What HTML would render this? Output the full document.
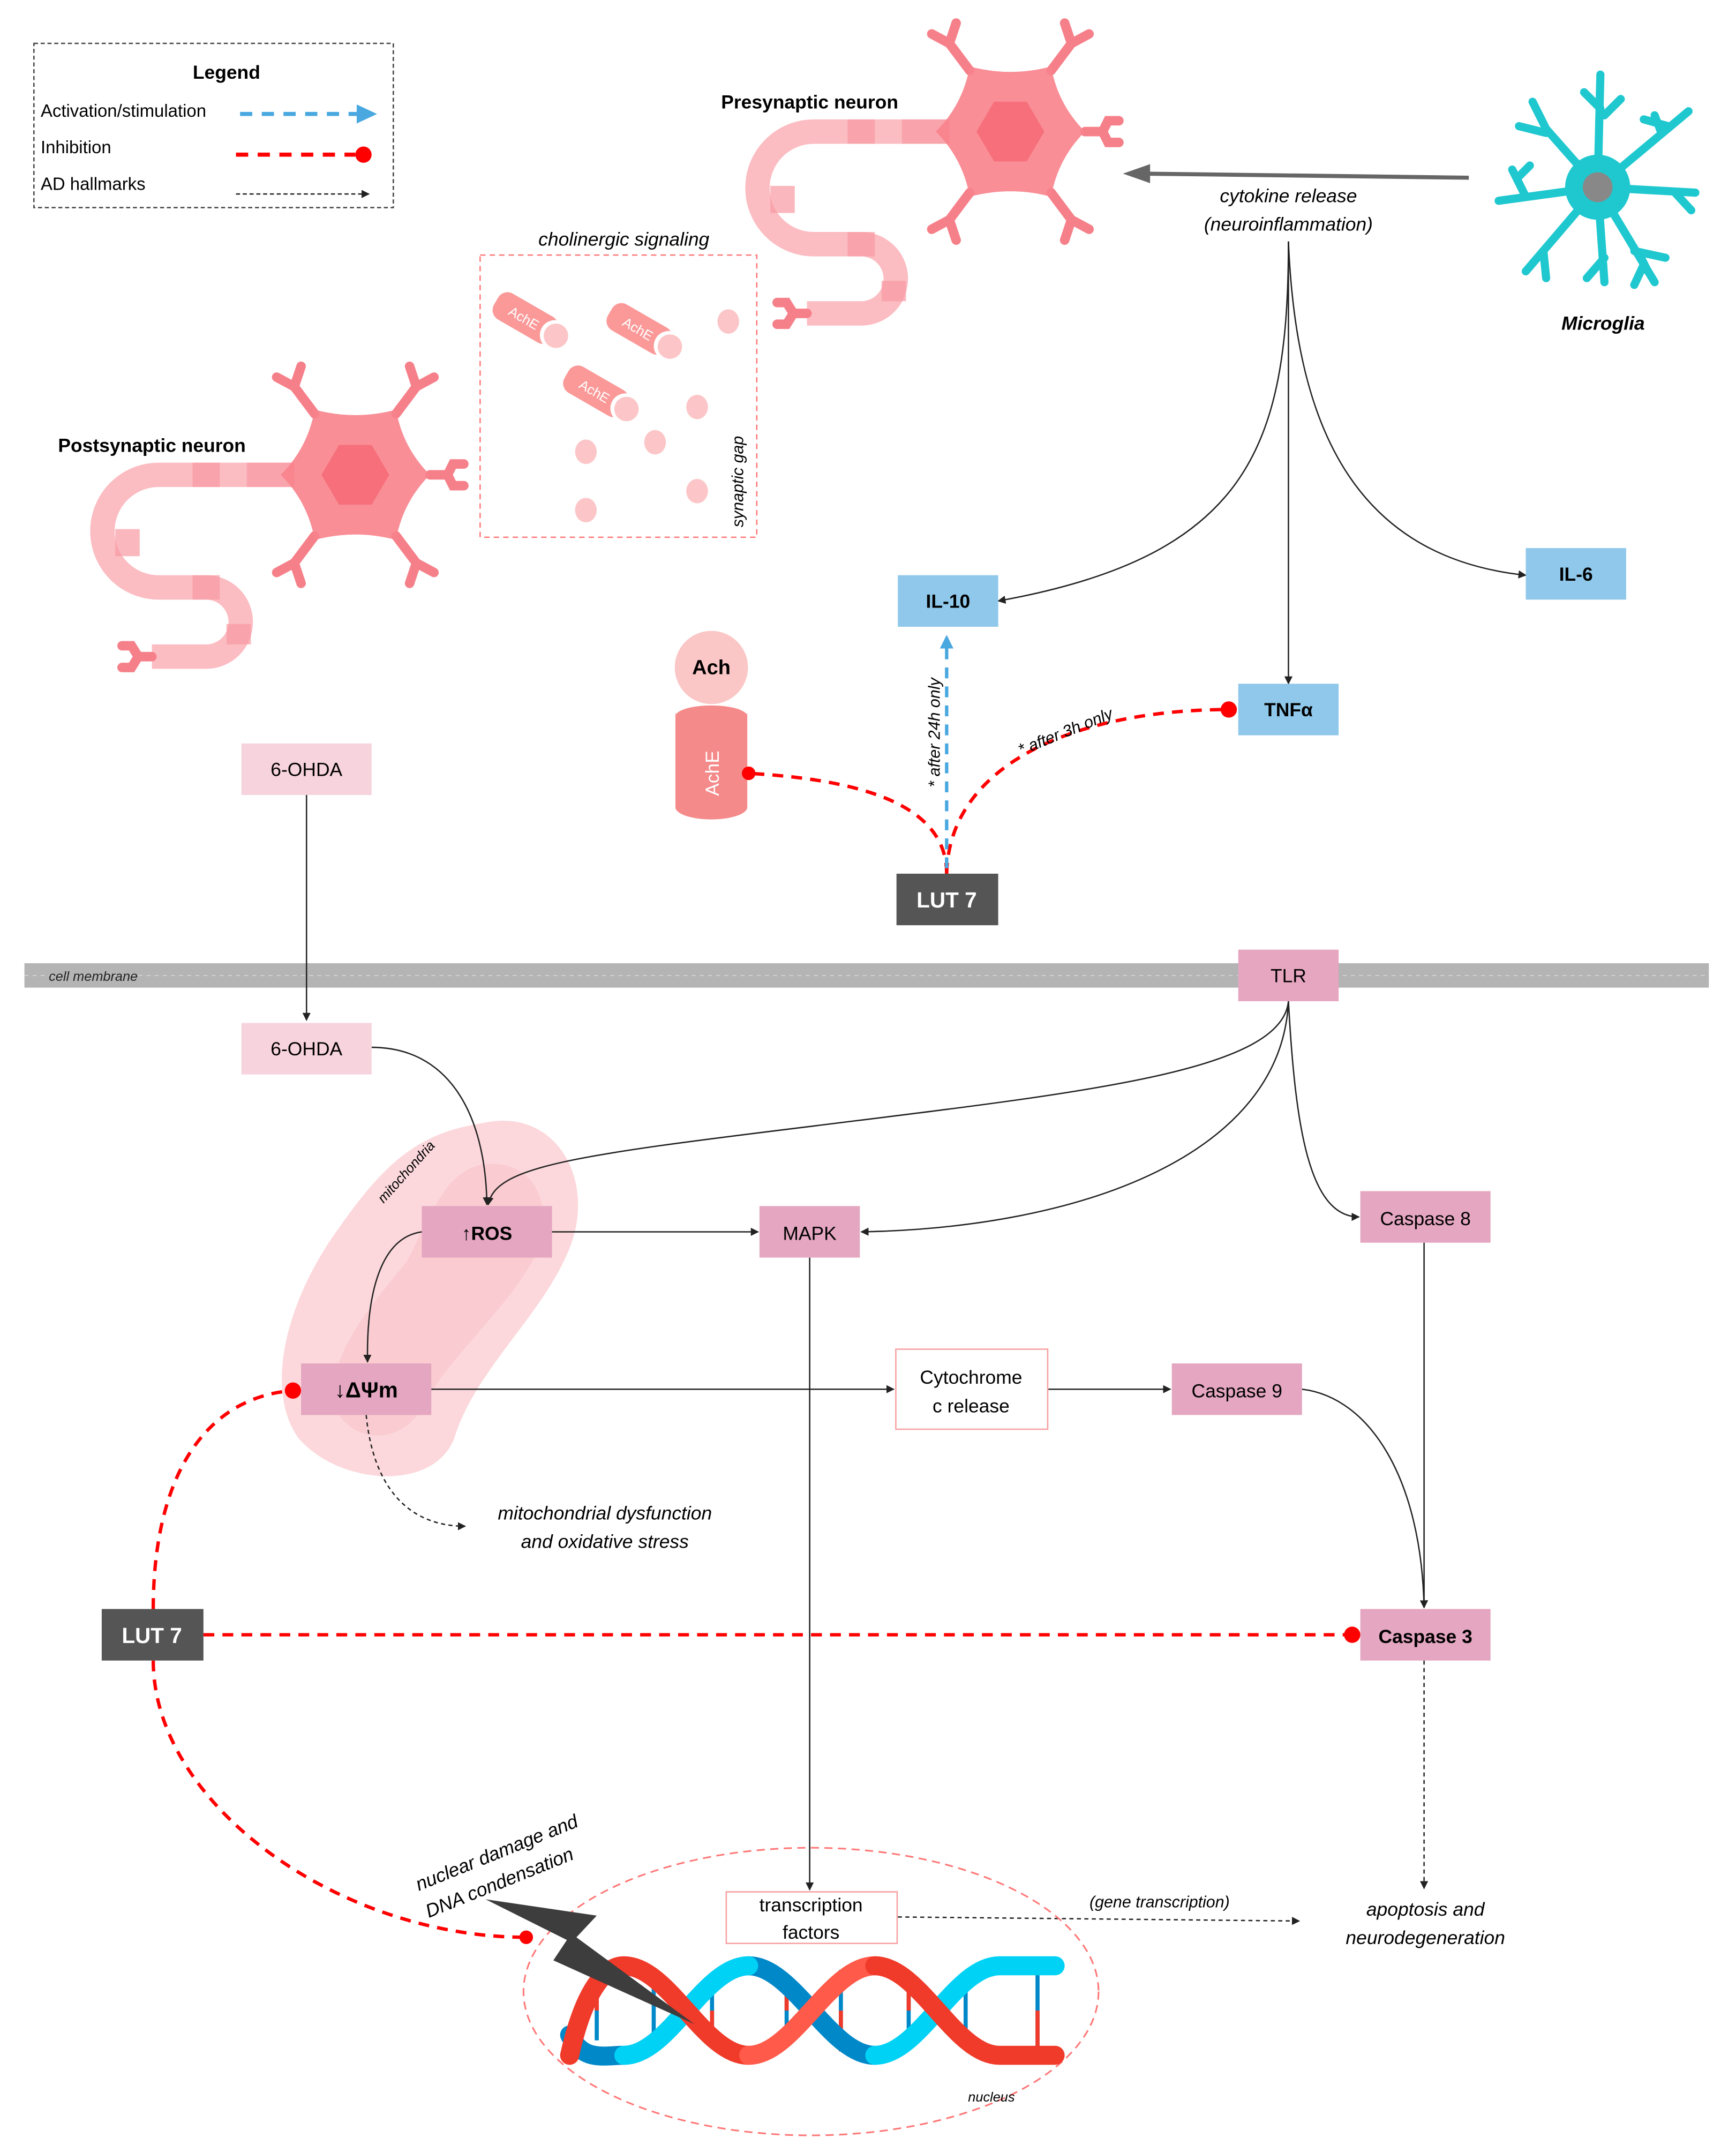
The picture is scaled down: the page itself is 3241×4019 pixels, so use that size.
<!DOCTYPE html>
<html><head><meta charset="utf-8"><style>
html,body{margin:0;padding:0;background:#fff}
svg{display:block}
text{font-family:"Liberation Sans",sans-serif}
</style></head><body>
<svg xmlns="http://www.w3.org/2000/svg" width="3241" height="4019" viewBox="0 0 1280 1587" preserveAspectRatio="none">
<defs>
<marker id="ab" viewBox="0 0 10 10" refX="9" refY="5" markerWidth="6" markerHeight="6" orient="auto-start-reverse"><path d="M0,0 L10,5 L0,10 z" fill="#222"/></marker>
<marker id="ablue" viewBox="0 0 10 10" refX="8" refY="5" markerWidth="4" markerHeight="4" orient="auto"><path d="M0,0 L10,5 L0,10 z" fill="#4aa8e0"/></marker>
<g id="neuron">
 <path d="M-45,0 H-145 A41.5,41.5 0 0 0 -145,83 H-110 A25.5,25.5 0 0 1 -110,134 H-150" fill="none" stroke="#fbbcc2" stroke-width="18"/>
 <path d="M-45,0 H-80 M-100,0 H-120 M-168,40 V60 M-120,83 H-100 M-86,110 V125" fill="none" stroke="#f89aa2" stroke-width="18" opacity="0.7"/>
 <g stroke="#f6808a" stroke-width="7" stroke-linecap="round" fill="none">
  <path d="M-30,-45 L-45,-65 M-45,-65 L-58,-72 M-45,-65 L-40,-80"/>
  <path d="M30,-45 L45,-65 M45,-65 L58,-72 M45,-65 L40,-80"/>
  <path d="M-30,45 L-45,65 M-45,65 L-58,72 M-45,65 L-40,80"/>
  <path d="M30,45 L45,65 M45,65 L58,72 M45,65 L40,80"/>
  <path d="M55,0 L68,0 M68,0 L72,-8 L80,-8 M68,0 L72,8 L80,8"/>
  <path d="M-150,134 L-160,134 M-160,134 L-165,126 L-172,126 M-160,134 L-165,142 L-172,142"/>
 </g>
 <path d="M-55,0 Q-35,-20 -30,-48 Q0,-40 30,-48 Q35,-20 55,0 Q35,20 30,48 Q0,40 -30,48 Q-35,20 -55,0 z" fill="#f8828c" opacity="0.9"/>
 <path d="M-25,0 L-12,-22 L12,-22 L25,0 L12,22 L-12,22 z" fill="#f66f7a"/>
</g>
</defs>

<!-- Legend -->
<rect x="25" y="32" width="265" height="121" fill="none" stroke="#444" stroke-width="1" stroke-dasharray="3,2"/>
<text x="167" y="58" font-size="14" font-weight="bold" text-anchor="middle">Legend</text>
<text x="30" y="86" font-size="13">Activation/stimulation</text>
<text x="30" y="113" font-size="13">Inhibition</text>
<text x="30" y="140" font-size="13">AD hallmarks</text>
<line x1="177" y1="84" x2="263" y2="84" stroke="#4aa8e0" stroke-width="3" stroke-dasharray="9,7"/>
<path d="M263,77 L278,84 L263,91 z" fill="#4aa8e0"/>
<line x1="174" y1="114" x2="262" y2="114" stroke="#f00" stroke-width="3" stroke-dasharray="9,7"/>
<circle cx="268" cy="114" r="6" fill="#f00"/>
<line x1="174" y1="143" x2="272" y2="143" stroke="#222" stroke-width="1" stroke-dasharray="3,2" marker-end="url(#ab)"/>

<!-- neurons -->
<use href="#neuron" x="745" y="97"/>
<use href="#neuron" x="262" y="350"/>
<text x="597" y="80" font-size="14" font-weight="bold" text-anchor="middle">Presynaptic neuron</text>
<text x="112" y="333" font-size="14" font-weight="bold" text-anchor="middle">Postsynaptic neuron</text>

<!-- microglia -->
<g stroke="#1fc8cf" stroke-linecap="round" fill="none">
 <g stroke-width="6">
 <path d="M1178,138 L1180,55 M1180,80 L1168,68 M1183,85 L1195,73"/>
 <path d="M1178,138 L1140,95 L1130,75 M1140,98 L1120,93"/>
 <path d="M1178,138 L1245,82 M1225,98 L1220,85 M1230,93 L1212,88"/>
 <path d="M1178,138 L1105,148 M1125,145 L1115,125 M1120,130 L1128,122"/>
 <path d="M1178,138 L1250,142 M1235,142 L1247,155"/>
 <path d="M1178,138 L1125,200 M1138,185 L1140,205"/>
 <path d="M1178,138 L1183,208 M1183,190 L1170,205"/>
 <path d="M1178,138 L1220,208 M1205,185 L1228,190 M1210,190 L1215,200 M1212,195 L1205,210"/>
 </g>
 <circle cx="1178" cy="138" r="24" fill="#1fc8cf" stroke="none"/>
</g>
<circle cx="1178" cy="138" r="11" fill="#888"/>
<text x="1182" y="243" font-size="14" font-weight="bold" font-style="italic" text-anchor="middle">Microglia</text>

<!-- cytokine -->
<line x1="1083" y1="131" x2="845" y2="128" stroke="#666" stroke-width="3"/>
<path d="M828,128 L848,121 L848,135 z" fill="#666"/>
<text x="950" y="149" font-size="14" font-style="italic" text-anchor="middle">cytokine release</text>
<text x="950" y="170" font-size="14" font-style="italic" text-anchor="middle">(neuroinflammation)</text>
<g fill="none" stroke="#222" stroke-width="1">
<path d="M950,178 C950,330 920,410 736,443" marker-end="url(#ab)"/>
<path d="M950,178 V504" marker-end="url(#ab)"/>
<path d="M950,178 C955,300 990,410 1125,424" marker-end="url(#ab)"/>
</g>

<!-- synaptic box -->
<text x="460" y="181" font-size="14" font-style="italic" text-anchor="middle">cholinergic signaling</text>
<rect x="354" y="188" width="204" height="208" fill="none" stroke="#f77" stroke-width="1" stroke-dasharray="4,3"/>
<g>
 <g transform="translate(390,236) rotate(30)"><rect x="-28" y="-11" width="50" height="22" rx="8" fill="#fb9999"/><circle cx="22" cy="0" r="11" fill="#fff"/><circle cx="23" cy="0" r="9" fill="#fcc6c8"/><text x="-4" y="4" font-size="10" fill="#fff" text-anchor="middle">AchE</text></g>
 <g transform="translate(474,244) rotate(30)"><rect x="-28" y="-11" width="50" height="22" rx="8" fill="#fb9999"/><circle cx="22" cy="0" r="11" fill="#fff"/><circle cx="23" cy="0" r="9" fill="#fcc6c8"/><text x="-4" y="4" font-size="10" fill="#fff" text-anchor="middle">AchE</text></g>
 <g transform="translate(442,290) rotate(30)"><rect x="-28" y="-11" width="50" height="22" rx="8" fill="#fb9999"/><circle cx="22" cy="0" r="11" fill="#fff"/><circle cx="23" cy="0" r="9" fill="#fcc6c8"/><text x="-4" y="4" font-size="10" fill="#fff" text-anchor="middle">AchE</text></g>
 <g fill="#fcc6c8">
 <ellipse cx="537" cy="237" rx="8" ry="9"/><ellipse cx="514" cy="300" rx="8" ry="9"/><ellipse cx="483" cy="326" rx="8" ry="9"/>
 <ellipse cx="432" cy="333" rx="8" ry="9"/><ellipse cx="514" cy="362" rx="8" ry="9"/><ellipse cx="432" cy="376" rx="8" ry="9"/>
 </g>
 <text transform="translate(548,355) rotate(-90)" font-size="12" font-style="italic" text-anchor="middle">synaptic gap</text>
</g>

<!-- Ach / AchE -->
<path d="M498,525 V595 A26.5,9 0 0 0 551,595 V525 z" fill="#f58a8a"/>
<ellipse cx="524.5" cy="525" rx="26.5" ry="9" fill="#fff"/>
<ellipse cx="524.5" cy="528" rx="26.5" ry="8" fill="#f58a8a"/>
<circle cx="524.5" cy="492" r="27" fill="#fbc6c6"/>
<text x="524.5" y="497" font-size="15" font-weight="bold" text-anchor="middle">Ach</text>
<text transform="translate(530,570) rotate(-90)" font-size="14" fill="#fff" text-anchor="middle">AchE</text>

<!-- top inhibitions -->
<path d="M698,644 C698,595 640,575 552,570" fill="none" stroke="#f00" stroke-width="2.5" stroke-dasharray="8,6"/>
<circle cx="552" cy="570" r="5" fill="#f00"/>
<path d="M698,644 C700,560 800,523 906,523" fill="none" stroke="#f00" stroke-width="2.5" stroke-dasharray="8,6"/>
<circle cx="906" cy="523" r="6" fill="#f00"/>
<line x1="698" y1="640" x2="698" y2="470" stroke="#4aa8e0" stroke-width="2.5" stroke-dasharray="8,6" marker-end="url(#ablue)"/>
<text transform="translate(693,540) rotate(-90)" font-size="12" font-style="italic" text-anchor="middle">* after 24h only</text>
<text transform="translate(787,543) rotate(-22)" font-size="12" font-style="italic" text-anchor="middle">* after 3h only</text>

<!-- membrane -->
<rect x="18" y="710" width="1242" height="18" fill="#b4b4b4"/>
<line x1="18" y1="719" x2="1260" y2="719" stroke="#fff" stroke-width="0.6" stroke-dasharray="3,3" opacity="0.5"/>
<text x="36" y="723" font-size="10" font-style="italic" fill="#222">cell membrane</text>

<!-- mitochondria -->
<path d="M355,828 C410,815 440,870 420,920 C400,970 350,1010 335,1060 C320,1100 250,1095 220,1060 C195,1025 210,960 250,905 C285,855 310,835 355,828 z" fill="#fcd8dc"/>
<path d="M358,858 C395,855 410,890 395,925 C375,965 330,1000 310,1040 C290,1070 250,1060 245,1030 C245,995 275,960 300,930 C320,890 330,862 358,858 z" fill="#f9c4ca" opacity="0.6"/>
<text transform="translate(302,866) rotate(-48)" font-size="10" font-style="italic" text-anchor="middle">mitochondria</text>

<!-- connectors black -->
<g fill="none" stroke="#222" stroke-width="1">
<path d="M226,586 V752" marker-end="url(#ab)"/>
<path d="M274,772 C330,772 358,820 359,888" marker-end="url(#ab)"/>
<path d="M950,738 C945,790 800,805 600,830 C420,852 365,860 360,888" marker-end="url(#ab)"/>
<path d="M950,738 C945,850 800,905 635,908" marker-end="url(#ab)"/>
<path d="M950,738 C955,830 965,897 1002,897" marker-end="url(#ab)"/>
<path d="M407,908 H559" marker-end="url(#ab)"/>
<path d="M311,908 C282,912 270,950 271,1004" marker-end="url(#ab)"/>
<path d="M318,1024 H659" marker-end="url(#ab)"/>
<path d="M773,1024 H863" marker-end="url(#ab)"/>
<path d="M960,1024 C1010,1030 1048,1090 1050,1185" marker-end="url(#ab)"/>
<path d="M1050,916 V1185" marker-end="url(#ab)"/>
<path d="M597,927 V1393" marker-end="url(#ab)"/>
</g>
<g fill="none" stroke="#222" stroke-width="1" stroke-dasharray="3,2.5">
<path d="M270,1043 C275,1095 300,1125 343,1125" marker-end="url(#ab)"/>
<path d="M1050,1224 V1392" marker-end="url(#ab)"/>
<path d="M662,1413 L958,1416" marker-end="url(#ab)"/>
</g>
<text x="855" y="1406" font-size="12" font-style="italic" text-anchor="middle">(gene transcription)</text>
<text x="446" y="1120" font-size="14" font-style="italic" text-anchor="middle">mitochondrial dysfunction</text>
<text x="446" y="1141" font-size="14" font-style="italic" text-anchor="middle">and oxidative stress</text>
<text x="1051" y="1412" font-size="14" font-style="italic" text-anchor="middle">apoptosis and</text>
<text x="1051" y="1433" font-size="14" font-style="italic" text-anchor="middle">neurodegeneration</text>

<!-- bottom inhibitions -->
<g fill="none" stroke="#f00" stroke-width="2.5" stroke-dasharray="8,6">
<path d="M113,1186 C113,1090 150,1030 216,1025"/>
<path d="M113,1224 C113,1330 250,1428 388,1428"/>
<path d="M150,1205 H997"/>
</g>
<circle cx="216" cy="1025" r="6" fill="#f00"/>
<circle cx="388" cy="1428" r="5" fill="#f00"/>
<circle cx="997" cy="1205" r="6" fill="#f00"/>

<!-- nucleus -->
<ellipse cx="598" cy="1468" rx="212" ry="106" fill="none" stroke="#f77" stroke-width="1.2" stroke-dasharray="6,4"/>
<text x="731" y="1549" font-size="10" font-style="italic" text-anchor="middle">nucleus</text>
<g stroke-width="3">
 <g stroke="#0088c8">
 <line x1="440" y1="1460" x2="440" y2="1504"/><line x1="482" y1="1452" x2="482" y2="1512"/><line x1="525" y1="1462" x2="525" y2="1502"/>
 <line x1="580" y1="1460" x2="580" y2="1504"/><line x1="620" y1="1452" x2="620" y2="1512"/><line x1="670" y1="1454" x2="670" y2="1510"/>
 <line x1="712" y1="1460" x2="712" y2="1504"/><line x1="765" y1="1452" x2="765" y2="1512"/>
 </g>
 <g stroke="#f03a2a">
 <line x1="440" y1="1460" x2="440" y2="1482"/><line x1="525" y1="1482" x2="525" y2="1502"/><line x1="620" y1="1482" x2="620" y2="1512"/>
 <line x1="670" y1="1454" x2="670" y2="1482"/><line x1="765" y1="1482" x2="765" y2="1512"/><line x1="580" y1="1460" x2="580" y2="1482"/>
 </g>
</g>
<g fill="none" stroke-width="14" stroke-linecap="round">
 <path d="M420,1500 C430,1520 445,1515 460,1515 C493,1515 519,1449 552,1449" stroke="#0088c8"/>
 <path d="M552,1449 C585,1449 612,1515 645,1515" stroke="#0088c8"/>
 <path d="M645,1515 C678,1515 704,1449 737,1449 C755,1449 770,1449 778,1449" stroke="#00d2f5"/>
 <path d="M460,1515 C493,1515 519,1449 552,1449" stroke="#00d2f5"/>
 <path d="M420,1515 C430,1470 445,1449 460,1449 C493,1449 519,1515 552,1515" stroke="#f03a2a"/>
 <path d="M552,1515 C585,1515 612,1449 645,1449" stroke="#ff5a4a"/>
 <path d="M645,1449 C678,1449 704,1515 737,1515 C755,1515 770,1515 778,1515" stroke="#f03a2a"/>
</g>
<path d="M358,1400 L440,1412 L425,1428 L512,1492 L408,1445 L418,1430 z" fill="#3d3d3d"/>
<text transform="translate(368,1370) rotate(-22)" font-size="14" font-style="italic" text-anchor="middle">nuclear damage and</text>
<text transform="translate(370,1392) rotate(-22)" font-size="14" font-style="italic" text-anchor="middle">DNA condensation</text>

<!-- boxes -->
<g font-size="14">
<rect x="662" y="424" width="74" height="38" fill="#8fc8ea"/><text x="699" y="448" text-anchor="middle" font-weight="bold">IL-10</text>
<rect x="1125" y="404" width="74" height="38" fill="#8fc8ea"/><text x="1162" y="428" text-anchor="middle" font-weight="bold">IL-6</text>
<rect x="913" y="504" width="74" height="38" fill="#8fc8ea"/><text x="950" y="528" text-anchor="middle" font-weight="bold">TNFα</text>
<rect x="913" y="700" width="74" height="38" fill="#e6a6c0"/><text x="950" y="724" text-anchor="middle">TLR</text>
<rect x="178" y="548" width="96" height="38" fill="#f7d3de"/><text x="226" y="572" text-anchor="middle">6-OHDA</text>
<rect x="178" y="754" width="96" height="38" fill="#f7d3de"/><text x="226" y="778" text-anchor="middle">6-OHDA</text>
<rect x="311" y="889" width="96" height="38" fill="#e4a6c0"/><text x="359" y="914" text-anchor="middle" font-weight="bold">↑ROS</text>
<rect x="560" y="889" width="74" height="38" fill="#e4a6c0"/><text x="597" y="914" text-anchor="middle">MAPK</text>
<rect x="1003" y="878" width="96" height="38" fill="#e4a6c0"/><text x="1051" y="903" text-anchor="middle">Caspase 8</text>
<rect x="222" y="1005" width="96" height="38" fill="#e4a6c0"/><text x="270" y="1030" text-anchor="middle" font-weight="bold" font-size="16">↓ΔΨm</text>
<rect x="660.5" y="994.5" width="112" height="59" fill="#fff" stroke="#f7a0a0"/><text x="716" y="1020" text-anchor="middle">Cytochrome</text><text x="716" y="1041" text-anchor="middle">c release</text>
<rect x="864" y="1005" width="96" height="38" fill="#e4a6c0"/><text x="912" y="1030" text-anchor="middle">Caspase 9</text>
<rect x="1003" y="1186" width="96" height="38" fill="#e4a6c0"/><text x="1051" y="1211" text-anchor="middle" font-weight="bold">Caspase 3</text>
<rect x="661" y="644" width="75" height="38" fill="#555"/><text x="698" y="669" text-anchor="middle" fill="#fff" font-weight="bold" font-size="16">LUT 7</text>
<rect x="75" y="1186" width="75" height="38" fill="#555"/><text x="112" y="1211" text-anchor="middle" fill="#fff" font-weight="bold" font-size="16">LUT 7</text>
<rect x="535.5" y="1394.5" width="126" height="38" fill="#fff" stroke="#f7a0a0"/><text x="598" y="1409" text-anchor="middle">transcription</text><text x="598" y="1429" text-anchor="middle">factors</text>
</g>
</svg>
</body></html>
